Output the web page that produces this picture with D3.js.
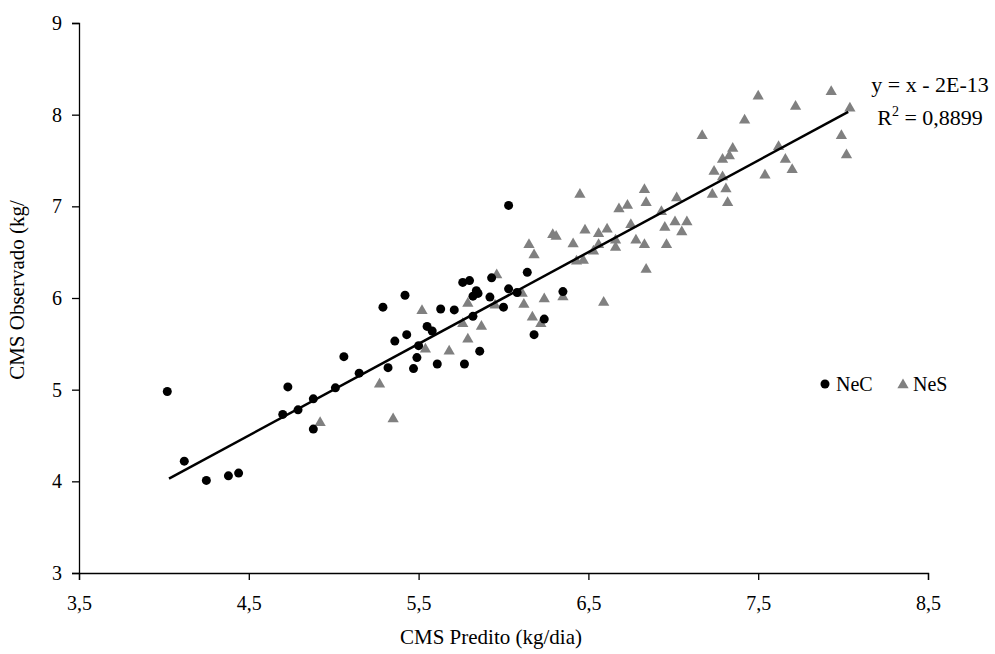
<!DOCTYPE html>
<html><head><meta charset="utf-8">
<script src="https://cdn.jsdelivr.net/npm/d3@7"></script>
<style>
body{margin:0;background:#fff;}
text{font-family:"Liberation Serif","Times New Roman",serif;fill:#000;}
</style></head>
<body><svg id="c" width="995" height="654"></svg>
<script>
const necX=[4.02,4.12,4.25,4.38,4.44,4.70,4.73,4.79,4.88,4.88,5.01,5.06,5.15,5.29,5.42,5.36,5.43,5.32,5.47,5.49,5.50,5.55,5.58,5.63,5.61,6.03,5.76,5.80,5.93,6.14,5.84,5.82,5.85,5.92,6.03,6.08,5.71,6.00,5.82,6.35,6.24,6.18,5.86,5.77];
const necY=[4.98,4.22,4.01,4.06,4.09,4.73,5.03,4.78,4.90,4.57,5.02,5.36,5.18,5.90,6.03,5.53,5.60,5.24,5.23,5.35,5.48,5.69,5.64,5.88,5.28,7.01,6.17,6.19,6.22,6.28,6.08,6.02,6.05,6.01,6.10,6.06,5.87,5.90,5.80,6.07,5.77,5.60,5.42,5.28];
const nesX=[4.92,5.35,5.27,5.52,5.54,5.68,5.79,5.95,5.76,5.87,5.79,5.96,6.11,6.12,6.24,6.35,6.17,6.22,6.59,6.15,6.18,6.29,6.31,6.45,6.48,6.56,6.61,6.41,6.43,6.47,6.53,6.56,6.83,6.84,6.68,6.73,7.02,6.93,7.23,7.31,7.32,7.24,7.29,6.75,6.66,6.66,6.78,6.83,6.95,7.01,7.08,7.05,6.96,6.84,7.50,7.93,7.72,8.04,7.42,7.99,8.02,7.62,7.66,7.70,7.54,7.35,7.33,7.17,7.29];
const nesY=[4.64,4.68,5.06,5.86,5.44,5.42,5.94,5.92,5.72,5.69,5.55,6.25,6.05,5.93,5.99,6.01,5.79,5.72,5.95,6.58,6.47,6.69,6.67,7.13,6.74,6.70,6.75,6.59,6.40,6.41,6.51,6.58,7.18,7.04,6.97,7.01,7.09,6.94,7.13,7.19,7.04,7.38,7.32,6.80,6.63,6.55,6.63,6.58,6.77,6.83,6.83,6.72,6.58,6.31,8.20,8.25,8.09,8.07,7.94,7.77,7.56,7.65,7.51,7.40,7.34,7.63,7.55,7.77,7.51];
const xTicks=[3.5,4.5,5.5,6.5,7.5,8.5];
const yTicks=[3,4,5,6,7,8,9];
const trendX=[4.03,8.03];
const eqText="y = x - 2E-13";
const r2Value="0,8899";
const xTitle="CMS Predito (kg/dia)";
const yTitle="CMS Observado (kg/";
const seriesNames=["NeC","NeS"];

const svg=d3.select("#c");
const x=d3.scaleLinear().domain([3.5,8.5]).range([79,928]);
const y=d3.scaleLinear().domain([3,9]).range([573,23]);
const fmt=d=>String(d).replace(".",",");

const gx=svg.append("g").attr("transform","translate(0,573)")
 .call(d3.axisBottom(x).tickValues(xTicks).tickFormat(fmt).tickSizeOuter(0).tickSize(7).tickPadding(16));
const gy=svg.append("g").attr("transform","translate(79,0)")
 .call(d3.axisLeft(y).tickValues(yTicks).tickFormat(d=>d).tickSizeOuter(0).tickSize(7).tickPadding(10));
[gx,gy].forEach(g=>{g.selectAll("path,line").attr("stroke","#000").attr("stroke-width",1.3);
 g.selectAll("text").style("font-size","20px").style("font-family","Liberation Serif");});

const nec=necX.map((d,i)=>({x:d,y:necY[i]}));
const nes=nesX.map((d,i)=>({x:d,y:nesY[i]}));
const tri=d3.symbol().type(d3.symbolTriangle).size(55);
svg.append("g").selectAll("path").data(nes).join("path")
 .attr("d",tri).attr("fill","#808080")
 .attr("transform",d=>`translate(${x(d.x)},${y(d.y)})`);
svg.append("g").selectAll("circle").data(nec).join("circle")
 .attr("cx",d=>x(d.x)).attr("cy",d=>y(d.y)).attr("r",4.5).attr("fill","#000");

svg.append("line").attr("x1",x(trendX[0])).attr("y1",y(trendX[0])).attr("x2",x(trendX[1])).attr("y2",y(trendX[1]))
 .attr("stroke","#000").attr("stroke-width",2.5);

svg.append("text").attr("x",930).attr("y",92).attr("text-anchor","middle").style("font-size","22px").text(eqText);
const r2=svg.append("text").attr("x",930).attr("y",125).attr("text-anchor","middle").style("font-size","22px");
r2.append("tspan").text("R");
r2.append("tspan").attr("dy",-9).style("font-size","14px").text("2");
r2.append("tspan").attr("dy",9).text(" = "+r2Value);

svg.append("text").attr("x",491).attr("y",644).attr("text-anchor","middle").style("font-size","21px").text(xTitle);
svg.append("text").attr("transform","translate(24,290) rotate(-90)").attr("text-anchor","middle").style("font-size","21px").text(yTitle);

const lg=svg.append("g");
lg.append("circle").attr("cx",825).attr("cy",384).attr("r",4.5).attr("fill","#000");
lg.append("text").attr("x",836).attr("y",391).style("font-size","20px").text(seriesNames[0]);
lg.append("path").attr("d",tri).attr("fill","#808080").attr("transform","translate(903,385)");
lg.append("text").attr("x",913).attr("y",391).style("font-size","20px").text(seriesNames[1]);
</script></body></html>
